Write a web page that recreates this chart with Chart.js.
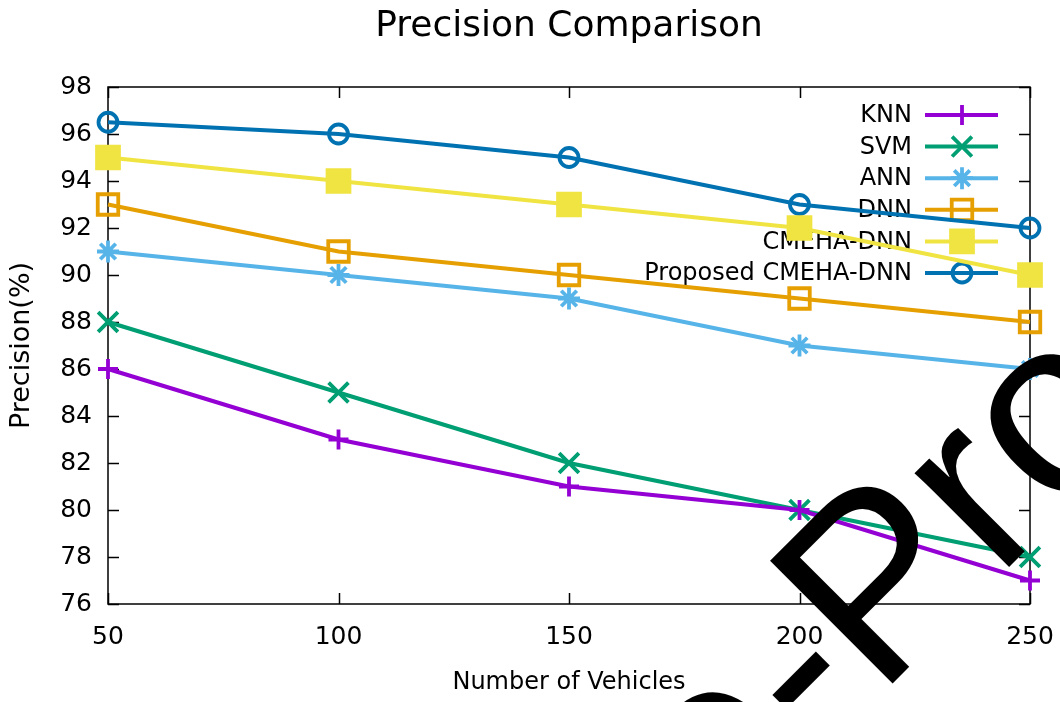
<!DOCTYPE html>
<html>
<head>
<meta charset="utf-8">
<script src="https://cdn.jsdelivr.net/npm/chart.js@4.4.1/dist/chart.umd.min.js"></script>
<style>
  html, body { margin: 0; padding: 0; background: #ffffff; }
  #wrap { width: 1060px; height: 702px; }
</style>
</head>
<body>
<div id="wrap"><canvas id="c" width="1060" height="702"></canvas></div>
<script>
// Precision (%) of each method against the number of vehicles
const vehicles = [50, 100, 150, 200, 250];
const knn = [86, 83, 81, 80, 77];
const svm = [88, 85, 82, 80, 78];
const ann = [91, 90, 89, 87, 86];
const dnn = [93, 91, 90, 89, 88];
const cmehaDnn = [95, 94, 93, 92, 90];
const proposed = [96.5, 96, 95, 93, 92];
const methodNames = ['KNN', 'SVM', 'ANN', 'DNN', 'CMEHA-DNN', 'Proposed CMEHA-DNN'];
const xTicks = [50, 100, 150, 200, 250];
const yTicks = [76, 78, 80, 82, 84, 86, 88, 90, 92, 94, 96, 98];
const chartTitle = 'Precision Comparison';

const FONT = "'DejaVu Sans', sans-serif";

const styles = [
  { color: '#9400d3', pointStyle: 'cross',    radius: 10,   fill: '#9400d3' },
  { color: '#009e73', pointStyle: 'crossRot', radius: 14,   fill: '#009e73' },
  { color: '#56b4e9', pointStyle: 'star',     radius: 11,   fill: '#56b4e9' },
  { color: '#e69f00', pointStyle: 'rect',     radius: 14.5, fill: 'rgba(0,0,0,0)' },
  { color: '#f0e442', pointStyle: 'rect',     radius: 15.5, fill: '#f0e442' },
  { color: '#0072b2', pointStyle: 'circle',   radius: 9.5,  fill: 'rgba(0,0,0,0)' }
];
const seriesValues = [knn, svm, ann, dnn, cmehaDnn, proposed];

const datasets = seriesValues.map((vals, i) => ({
  label: methodNames[i],
  data: vals.map((v, k) => ({ x: vehicles[k], y: v })),
  borderColor: styles[i].color,
  backgroundColor: styles[i].fill,
  pointBorderColor: styles[i].color,
  pointBackgroundColor: styles[i].fill,
  pointStyle: styles[i].pointStyle,
  pointRadius: styles[i].radius,
  pointHoverRadius: styles[i].radius,
  pointBorderWidth: 3.8,
  borderWidth: 4,
  tension: 0,
  clip: false
}));

// Title centred over the plot, frame with inward ticks, and the key
const framePlugin = {
  id: 'frame',
  beforeDatasetsDraw(chart) {
    const { ctx, chartArea: a, scales } = chart;
    const len = 11;
    ctx.save();
    ctx.fillStyle = '#000';
    ctx.font = '36px ' + FONT;
    ctx.textAlign = 'center';
    ctx.textBaseline = 'middle';
    ctx.fillText(chartTitle, (a.left + a.right) / 2, 27);

    ctx.strokeStyle = '#000';
    ctx.lineWidth = 1.5;
    ctx.strokeRect(a.left, a.top, a.right - a.left, a.bottom - a.top);
    ctx.beginPath();
    yTicks.forEach(v => {
      const y = Math.round(scales.y.getPixelForValue(v)) + 0.5;
      ctx.moveTo(a.left, y); ctx.lineTo(a.left + len, y);
      ctx.moveTo(a.right, y); ctx.lineTo(a.right - len, y);
    });
    xTicks.forEach(v => {
      const x = Math.round(scales.x.getPixelForValue(v)) + 0.5;
      ctx.moveTo(x, a.bottom); ctx.lineTo(x, a.bottom - len);
      ctx.moveTo(x, a.top); ctx.lineTo(x, a.top + len);
    });
    ctx.stroke();

    // key, top right inside the plot
    const textRight = 912, lineL = 925, lineR = 998, markX = 962;
    ctx.font = '24px ' + FONT;
    ctx.textAlign = 'right';
    ctx.textBaseline = 'middle';
    chart.data.datasets.forEach((ds, i) => {
      const y = 115 + i * 31.6;
      ctx.fillStyle = '#000';
      ctx.fillText(ds.label, textRight, y + 1);
    });
    chart.data.datasets.forEach((ds, i) => {
      const y = 115 + i * 31.6;
      ctx.strokeStyle = ds.borderColor;
      ctx.lineWidth = ds.borderWidth;
      ctx.beginPath();
      ctx.moveTo(lineL, y); ctx.lineTo(lineR, y);
      ctx.stroke();
      ctx.fillStyle = ds.pointBackgroundColor;
      ctx.strokeStyle = ds.pointBorderColor;
      ctx.lineWidth = ds.pointBorderWidth;
      Chart.helpers.drawPoint(ctx, {
        pointStyle: ds.pointStyle, radius: ds.pointRadius, rotation: 0, borderWidth: ds.pointBorderWidth
      }, markX, y);
    });
    ctx.restore();
  }
};

// Diagonal watermark across the lower right
const watermarkPlugin = {
  id: 'watermark',
  afterDraw(chart) {
    const { ctx } = chart;
    ctx.save();
    ctx.translate(878, 698);
    ctx.rotate(-Math.PI / 4);
    ctx.fillStyle = '#000';
    ctx.font = "252px 'Liberation Sans', sans-serif";
    ctx.textBaseline = 'alphabetic';
    ctx.textAlign = 'left';
    ctx.fillText('Proof', 0, 0);
    ctx.textAlign = 'right';
    ctx.fillText('Journal Pre-', 0, 0);
    ctx.restore();
  }
};

new Chart(document.getElementById('c'), {
  type: 'line',
  data: { datasets },
  plugins: [framePlugin, watermarkPlugin],
  options: {
    responsive: false,
    animation: false,
    events: [],
    layout: { padding: { left: 0, right: 30, top: 87, bottom: 0 } },
    plugins: {
      legend: { display: false },
      tooltip: { enabled: false },
      title: { display: false }
    },
    scales: {
      x: {
        type: 'linear',
        min: 50, max: 250,
        afterBuildTicks(scale) { scale.ticks = xTicks.map(v => ({ value: v })); },
        afterFit(scale) { scale.height = 98; scale.paddingLeft = 0; scale.paddingRight = 0; },
        grid: { display: false, drawTicks: false },
        border: { display: false },
        ticks: { color: '#000', padding: 18, font: { family: FONT, size: 25 }, maxRotation: 0 },
        title: {
          display: true, text: 'Number of Vehicles', color: '#000',
          font: { family: FONT, size: 24 }, padding: { top: 0, bottom: 5 }
        }
      },
      y: {
        type: 'linear',
        min: 76, max: 98,
        afterBuildTicks(scale) { scale.ticks = yTicks.map(v => ({ value: v })); },
        afterFit(scale) { scale.width = 108; scale.paddingTop = 0; scale.paddingBottom = 0; },
        grid: { display: false, drawTicks: false },
        border: { display: false },
        ticks: { color: '#000', padding: 16, font: { family: FONT, size: 25 } },
        title: {
          display: true, text: 'Precision(%)', color: '#000',
          font: { family: FONT, size: 27 }, padding: { top: 6, bottom: 0 }
        }
      }
    }
  }
});
</script>
</body>
</html>
